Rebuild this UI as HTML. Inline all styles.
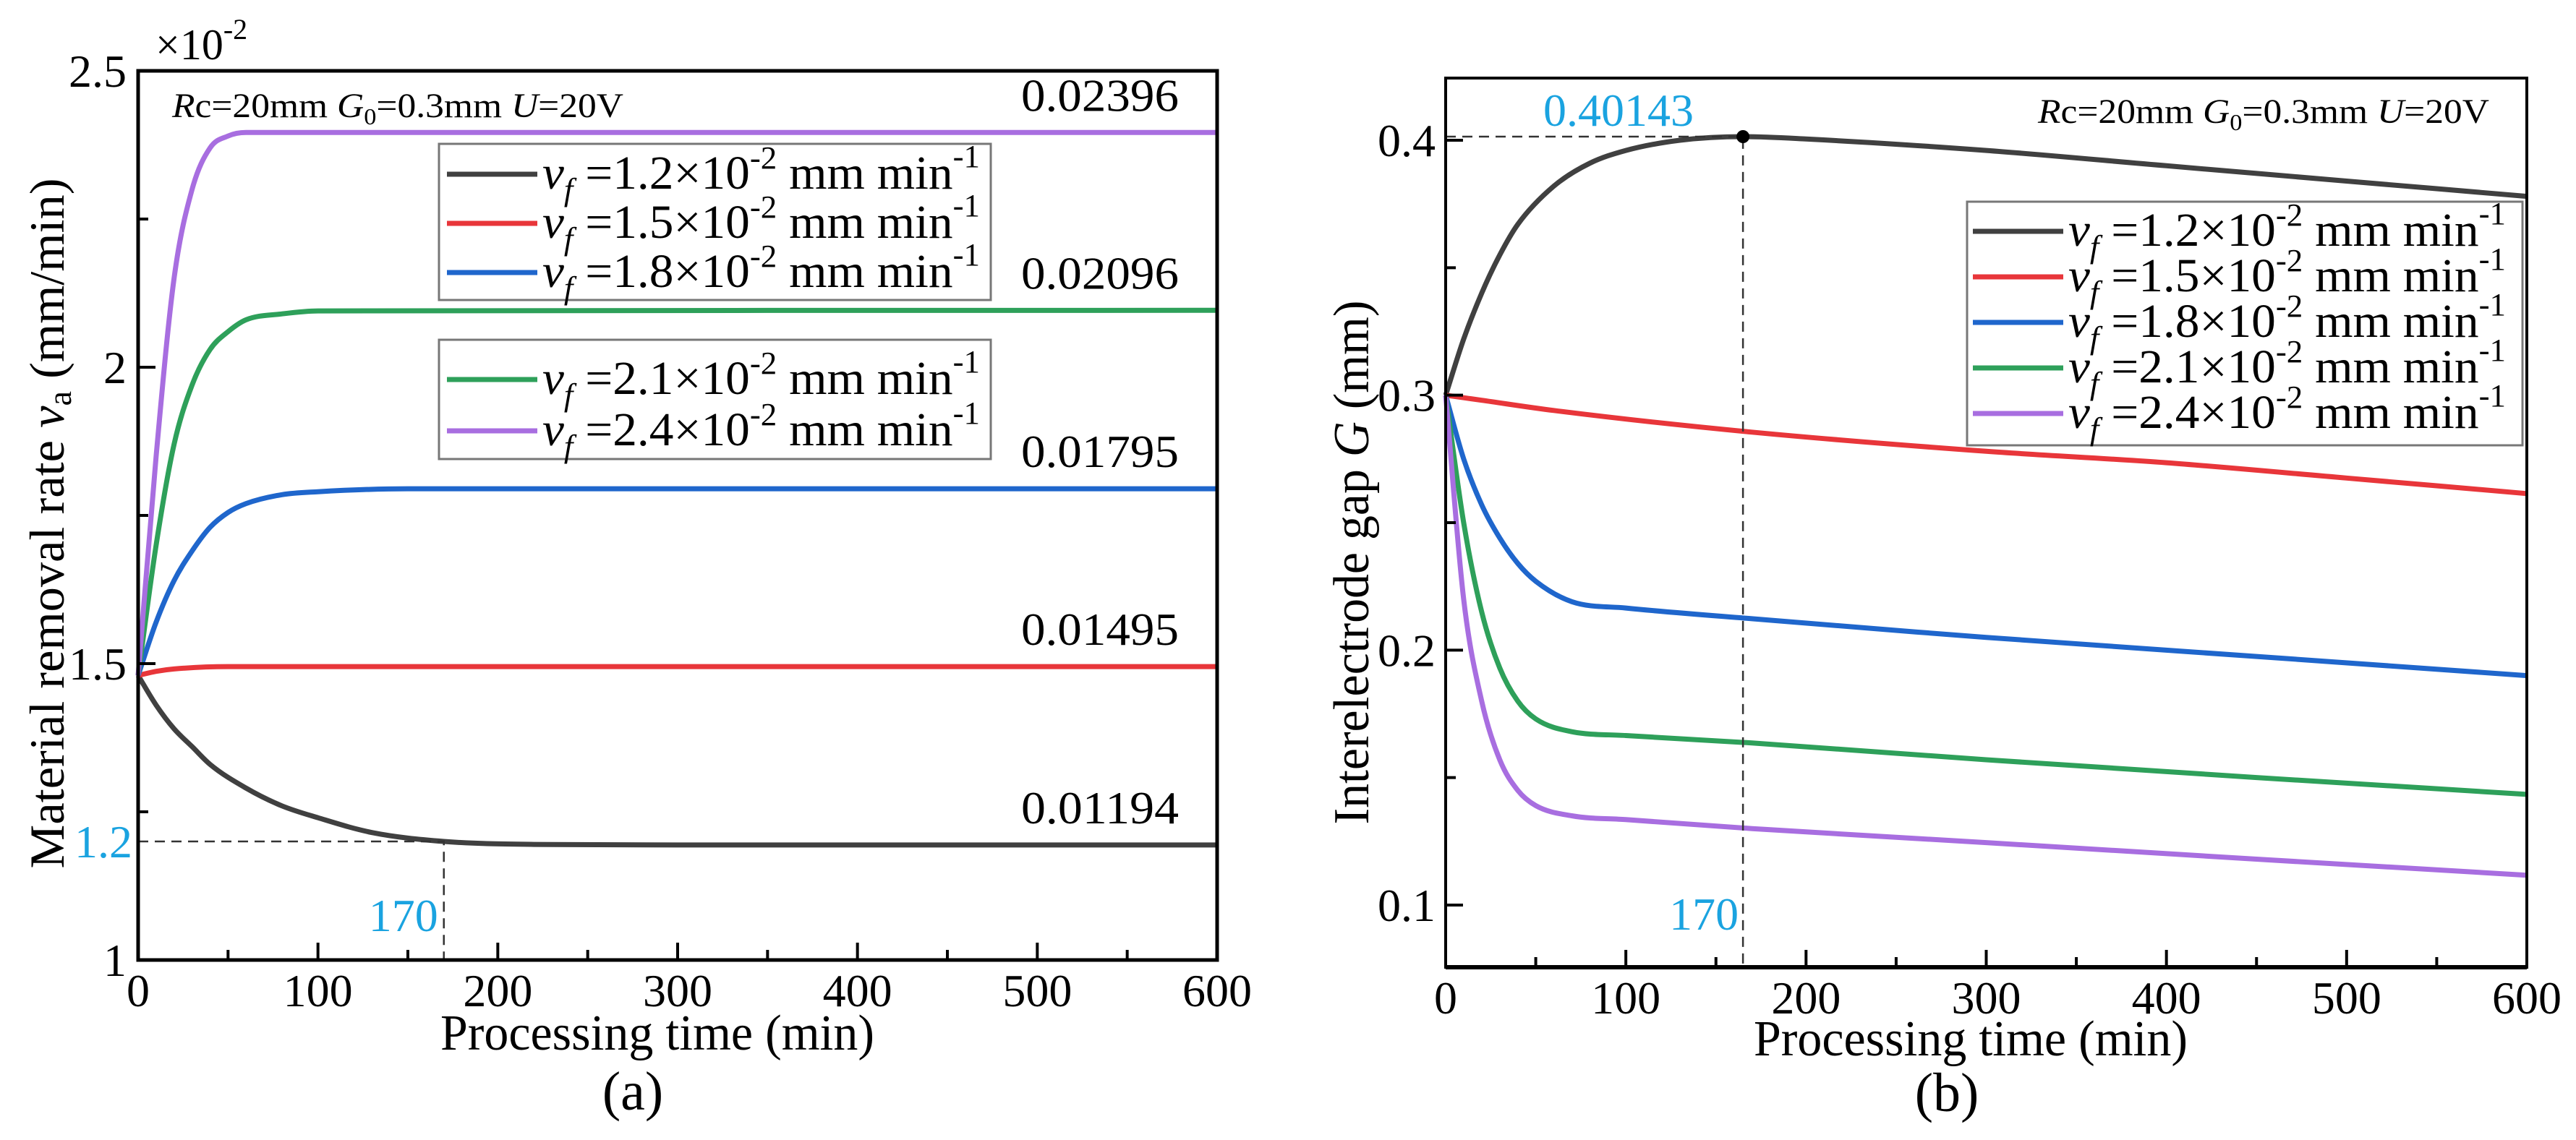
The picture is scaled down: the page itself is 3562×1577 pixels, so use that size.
<!DOCTYPE html>
<html><head><meta charset="utf-8"><style>
html,body{margin:0;padding:0;background:#fff;}
svg{display:block;font-family:"Liberation Serif",serif;}
text{font-family:"Liberation Serif",serif;}
</style></head><body>
<svg id="fig" width="3562" height="1577" viewBox="0 0 3562 1577" xmlns="http://www.w3.org/2000/svg"></svg>
<script>
// ---------- Data: panel (a) material removal rate (x10^-2 mm/min) ----------
const timeA_black = [0,10,20,30,40,60,80,100,130,170,220,300,600];
const rateA_black = [1.48,1.43,1.39,1.36,1.33,1.29,1.26,1.24,1.215,1.2,1.195,1.194,1.194];
const timeA_red = [0,10,20,50,100,600];
const rateA_red = [1.48,1.487,1.491,1.495,1.495,1.495];
const timeA_blue = [0,10,20,30,40,50,60,80,100,150,600];
const rateA_blue = [1.48,1.57,1.64,1.69,1.73,1.755,1.77,1.785,1.79,1.795,1.795];
const timeA_green = [0,10,20,30,40,50,60,80,100,600];
const rateA_green = [1.48,1.7,1.87,1.97,2.03,2.06,2.08,2.09,2.095,2.096];
const timeA_purple = [0,10,20,30,40,50,60,80,600];
const rateA_purple = [1.48,1.85,2.15,2.3,2.37,2.39,2.396,2.396,2.396];
const endLabelsA = ["0.02396","0.02096","0.01795","0.01495","0.01194"];
const endValuesA = [2.396,2.096,1.795,1.495,1.194];
const yTicksA = [1,1.5,2,2.5];
const yTickLabelsA = ["1","1.5","2","2.5"];
const xTicks = [0,100,200,300,400,500,600];
const xTickLabels = ["0","100","200","300","400","500","600"];

// ---------- Data: panel (b) interelectrode gap (mm) ----------
const timeB_black = [0,10,20,30,40,60,80,100,130,165,200,300,400,500,600];
const gapB_black = [0.3,0.322,0.34,0.355,0.367,0.382,0.391,0.396,0.4,0.40143,0.4005,0.396,0.39,0.384,0.378];
const timeB_red = [0,20,60,170,300,400,500,600];
const gapB_red = [0.3,0.298,0.294,0.2855,0.278,0.2735,0.2675,0.2614];
const timeB_blue = [0,10,20,30,40,50,70,100,170,300,450,600];
const gapB_blue = [0.3,0.275,0.257,0.244,0.234,0.227,0.219,0.2165,0.2123,0.205,0.1975,0.19];
const timeB_green = [0,10,20,30,40,50,70,100,170,300,450,600];
const gapB_green = [0.3,0.25,0.215,0.193,0.18,0.173,0.168,0.1665,0.1636,0.157,0.15,0.1434];
const timeB_purple = [0,10,20,30,40,50,70,100,170,300,450,600];
const gapB_purple = [0.3,0.22,0.18,0.157,0.145,0.139,0.135,0.1335,0.13,0.1245,0.118,0.1117];
const yTicksB = [0.1,0.2,0.3,0.4];
const yTickLabelsB = ["0.1","0.2","0.3","0.4"];
const peakTimeB = 165, peakGapB = 0.40143;

const colors = ["#404040","#e8363a","#1f66cc","#2ea05a","#a86ee0"];
const legendLabels = ["1.2","1.5","1.8","2.1","2.4"];

const NS = "http://www.w3.org/2000/svg";
const svg = document.getElementById('fig');
function el(tag, attrs, parent, text){
  const e = document.createElementNS(NS, tag);
  for (const k in attrs) e.setAttribute(k, attrs[k]);
  if (text !== undefined) e.textContent = text;
  (parent||svg).appendChild(e);
  return e;
}
// monotone cubic (Fritsch-Carlson) path
function smoothPath(xs, ys){
  const n = xs.length;
  const d = [], m = new Array(n);
  for (let i=0;i<n-1;i++) d.push((ys[i+1]-ys[i])/(xs[i+1]-xs[i]));
  m[0]=d[0]; m[n-1]=d[n-2];
  for (let i=1;i<n-1;i++){ m[i] = (d[i-1]*d[i]<=0) ? 0 : (d[i-1]+d[i])/2; }
  for (let i=0;i<n-1;i++){
    if (d[i]===0){ m[i]=0; m[i+1]=0; continue; }
    const a=m[i]/d[i], b=m[i+1]/d[i], s=a*a+b*b;
    if (s>9){ const t=3/Math.sqrt(s); m[i]=t*a*d[i]; m[i+1]=t*b*d[i]; }
  }
  let p = "M"+xs[0].toFixed(1)+","+ys[0].toFixed(1);
  for (let i=0;i<n-1;i++){
    const h=(xs[i+1]-xs[i])/3;
    p += " C"+(xs[i]+h).toFixed(1)+","+(ys[i]+m[i]*h).toFixed(1)+" "+(xs[i+1]-h).toFixed(1)+","+(ys[i+1]-m[i+1]*h).toFixed(1)+" "+xs[i+1].toFixed(1)+","+ys[i+1].toFixed(1);
  }
  return p;
}
function legendEntry(g, x, y, i){
  el('line',{x1:x,y1:y,x2:x+125,y2:y,stroke:colors[i],'stroke-width':7},g);
  const t = el('text',{x:x+132,y:y+20,'font-size':66,textLength:605,lengthAdjust:'spacingAndGlyphs'},g);
  el('tspan',{'font-style':'italic'},t,'v');
  el('tspan',{'font-style':'italic','font-size':44,dy:16},t,'f');
  el('tspan',{dy:-16},t,' =' + legendLabels[i] + '×10');
  el('tspan',{'font-size':44,dy:-28},t,'-2');
  el('tspan',{dy:28},t,' mm min');
  el('tspan',{'font-size':44,dy:-30},t,'-1');
  
  
}

// ================= Panel A =================
const A = {L:191,R:1683,T:98,B:1328,x0:0,x1:600,y0:1,y1:2.5};
const xA = v => A.L + (v-A.x0)/(A.x1-A.x0)*(A.R-A.L);
const yA = v => A.B - (v-A.y0)/(A.y1-A.y0)*(A.B-A.T);
const gA = el('g',{});



const seriesA = [[timeA_black,rateA_black],[timeA_red,rateA_red],[timeA_blue,rateA_blue],[timeA_green,rateA_green],[timeA_purple,rateA_purple]];
seriesA.forEach((s,i)=>{
  const p = el('path',{d:smoothPath(s[0].map(xA), s[1].map(yA)),fill:'none',stroke:colors[i],'stroke-width':7,'stroke-linejoin':'round'},gA);
  
  
});
el('path',{d:`M${xA(0)},${yA(1.2)} H${xA(170)} V${A.B}`,fill:'none',stroke:'#333','stroke-width':2.5,'stroke-dasharray':'14,9'},gA);
el('text',{x:xA(0)-8,y:yA(1.2)+22,'font-size':64,fill:'#1aa3e0','text-anchor':'end'},gA,'1.2');
el('text',{x:xA(170)-8,y:1288,'font-size':64,fill:'#1aa3e0','text-anchor':'end'},gA,'170');
endLabelsA.forEach((lab,i)=>{
  const t = el('text',{x:1630,y:yA(endValuesA[i])-30,'font-size':64,'text-anchor':'end',textLength:218,lengthAdjust:'spacingAndGlyphs'},gA,lab);
  
  
});
el('rect',{x:A.L,y:A.T,width:A.R-A.L,height:A.B-A.T,fill:'none',stroke:'#000','stroke-width':5},gA);
for (let v=0; v<=600; v+=50){
  const maj = v%100===0;
  el('line',{x1:xA(v),y1:A.B,x2:xA(v),y2:A.B-(maj?24:14),stroke:'#000','stroke-width':4},gA);
}
for (let v=1; v<=2.5001; v+=0.25){
  const maj = Math.abs(v*2-Math.round(v*2))<1e-6;
  el('line',{x1:A.L,y1:yA(v),x2:A.L+(maj?24:14),y2:yA(v),stroke:'#000','stroke-width':4},gA);
}
xTicks.forEach((v,i)=>{ el('text',{x:xA(v),y:1392,'font-size':64,'text-anchor':'middle'},gA,xTickLabels[i]); });
yTicksA.forEach((v,i)=>{ el('text',{x:A.L-16,y:yA(v)+22,'font-size':64,'text-anchor':'end'},gA,yTickLabelsA[i]); });
{ const t=el('text',{x:215,y:82,'font-size':60},gA); el('tspan',{},t,'×10'); el('tspan',{'font-size':40,dy:-28},t,'-2');  }
{ const t=el('text',{x:238,y:162,'font-size':48,textLength:624,lengthAdjust:'spacingAndGlyphs'},gA);
  el('tspan',{'font-style':'italic'},t,'R'); el('tspan',{},t,'c=20mm ');
  el('tspan',{'font-style':'italic'},t,'G'); el('tspan',{'font-size':32,dy:10},t,'0'); el('tspan',{dy:-10},t,'=0.3mm ');
  el('tspan',{'font-style':'italic'},t,'U'); el('tspan',{},t,'=20V');  }
el('text',{x:909,y:1452,'font-size':70,'text-anchor':'middle',textLength:600,lengthAdjust:'spacingAndGlyphs'},gA,'Processing time (min)');
el('text',{x:875,y:1535,'font-size':76,'text-anchor':'middle'},gA,'(a)');
{ const t=el('text',{x:0,y:0,'font-size':68,'text-anchor':'middle',transform:'translate(88,724) rotate(-90)',textLength:955,lengthAdjust:'spacingAndGlyphs'},gA);
  el('tspan',{},t,'Material removal rate '); el('tspan',{'font-style':'italic'},t,'v'); el('tspan',{'font-size':46,dy:10},t,'a'); el('tspan',{dy:-10},t,' (mm/min)');
   }
const lgA1 = el('g',{},gA);  
el('rect',{x:607,y:199,width:763,height:216,fill:'#fff',stroke:'#777','stroke-width':3},lgA1);
[0,1,2].forEach((i,k)=>legendEntry(lgA1,618,241+k*68,i));
const lgA2 = el('g',{},gA);  
el('rect',{x:607,y:470,width:763,height:165,fill:'#fff',stroke:'#777','stroke-width':3},lgA2);
[3,4].forEach((i,k)=>legendEntry(lgA2,618,525+k*71,i));

// ================= Panel B =================
const B = {L:1999,R:3494,T:108,B:1338,x0:0,x1:600,y0:0.0756,y1:0.4244};
const xB = v => B.L + (v-B.x0)/(B.x1-B.x0)*(B.R-B.L);
const yB = v => B.B - (v-B.y0)/(B.y1-B.y0)*(B.B-B.T);
const gB = el('g',{});


const seriesB = [[timeB_black,gapB_black],[timeB_red,gapB_red],[timeB_blue,gapB_blue],[timeB_green,gapB_green],[timeB_purple,gapB_purple]];
seriesB.forEach((s,i)=>{
  const p = el('path',{d:smoothPath(s[0].map(xB), s[1].map(yB)),fill:'none',stroke:colors[i],'stroke-width':7,'stroke-linejoin':'round'},gB);
  
  
});
el('path',{d:`M${xB(0)},${yB(peakGapB)} H${xB(peakTimeB)} V${B.B}`,fill:'none',stroke:'#333','stroke-width':2.5,'stroke-dasharray':'14,9'},gB);
el('circle',{cx:xB(peakTimeB),cy:yB(peakGapB),r:9,fill:'#000'},gB);
el('text',{x:2238,y:174,'font-size':64,fill:'#1aa3e0','text-anchor':'middle'},gB,'0.40143');
el('text',{x:xB(peakTimeB)-6,y:1286,'font-size':64,fill:'#1aa3e0','text-anchor':'end'},gB,'170');
el('rect',{x:B.L,y:B.T,width:B.R-B.L,height:B.B-B.T,fill:'none',stroke:'#000','stroke-width':4},gB);
el('line',{x1:B.L,y1:B.B,x2:B.R,y2:B.B,stroke:'#000','stroke-width':6},gB);
for (let v=0; v<=600; v+=50){
  const maj = v%100===0;
  el('line',{x1:xB(v),y1:B.B,x2:xB(v),y2:B.B-(maj?24:14),stroke:'#000','stroke-width':4},gB);
}
for (let v=0.1; v<=0.4001; v+=0.05){
  const maj = Math.abs(v*10-Math.round(v*10))<1e-6;
  el('line',{x1:B.L,y1:yB(v),x2:B.L+(maj?24:14),y2:yB(v),stroke:'#000','stroke-width':4},gB);
}
xTicks.forEach((v,i)=>{ el('text',{x:xB(v),y:1402,'font-size':64,'text-anchor':'middle'},gB,xTickLabels[i]); });
yTicksB.forEach((v,i)=>{ el('text',{x:B.L-14,y:yB(v)+22,'font-size':64,'text-anchor':'end'},gB,yTickLabelsB[i]); });
{ const t=el('text',{x:3442,y:170,'font-size':48,'text-anchor':'end',textLength:624,lengthAdjust:'spacingAndGlyphs'},gB);
  el('tspan',{'font-style':'italic'},t,'R'); el('tspan',{},t,'c=20mm ');
  el('tspan',{'font-style':'italic'},t,'G'); el('tspan',{'font-size':32,dy:10},t,'0'); el('tspan',{dy:-10},t,'=0.3mm ');
  el('tspan',{'font-style':'italic'},t,'U'); el('tspan',{},t,'=20V');  }
el('text',{x:2725,y:1460,'font-size':70,'text-anchor':'middle',textLength:600,lengthAdjust:'spacingAndGlyphs'},gB,'Processing time (min)');
el('text',{x:2692,y:1537,'font-size':76,'text-anchor':'middle'},gB,'(b)');
{ const t=el('text',{x:0,y:0,'font-size':70,'text-anchor':'middle',transform:'translate(1892,778) rotate(-90)',textLength:725,lengthAdjust:'spacingAndGlyphs'},gB);
  el('tspan',{},t,'Interelectrode gap '); el('tspan',{'font-style':'italic'},t,'G'); el('tspan',{},t,' (mm)');
   }
const lgB = el('g',{},gB);  
el('rect',{x:2720,y:279,width:768,height:337,fill:'#fff',stroke:'#777','stroke-width':3},lgB);
[0,1,2,3,4].forEach((i,k)=>legendEntry(lgB,2728,320+k*63,i));
</script>
</body></html>
